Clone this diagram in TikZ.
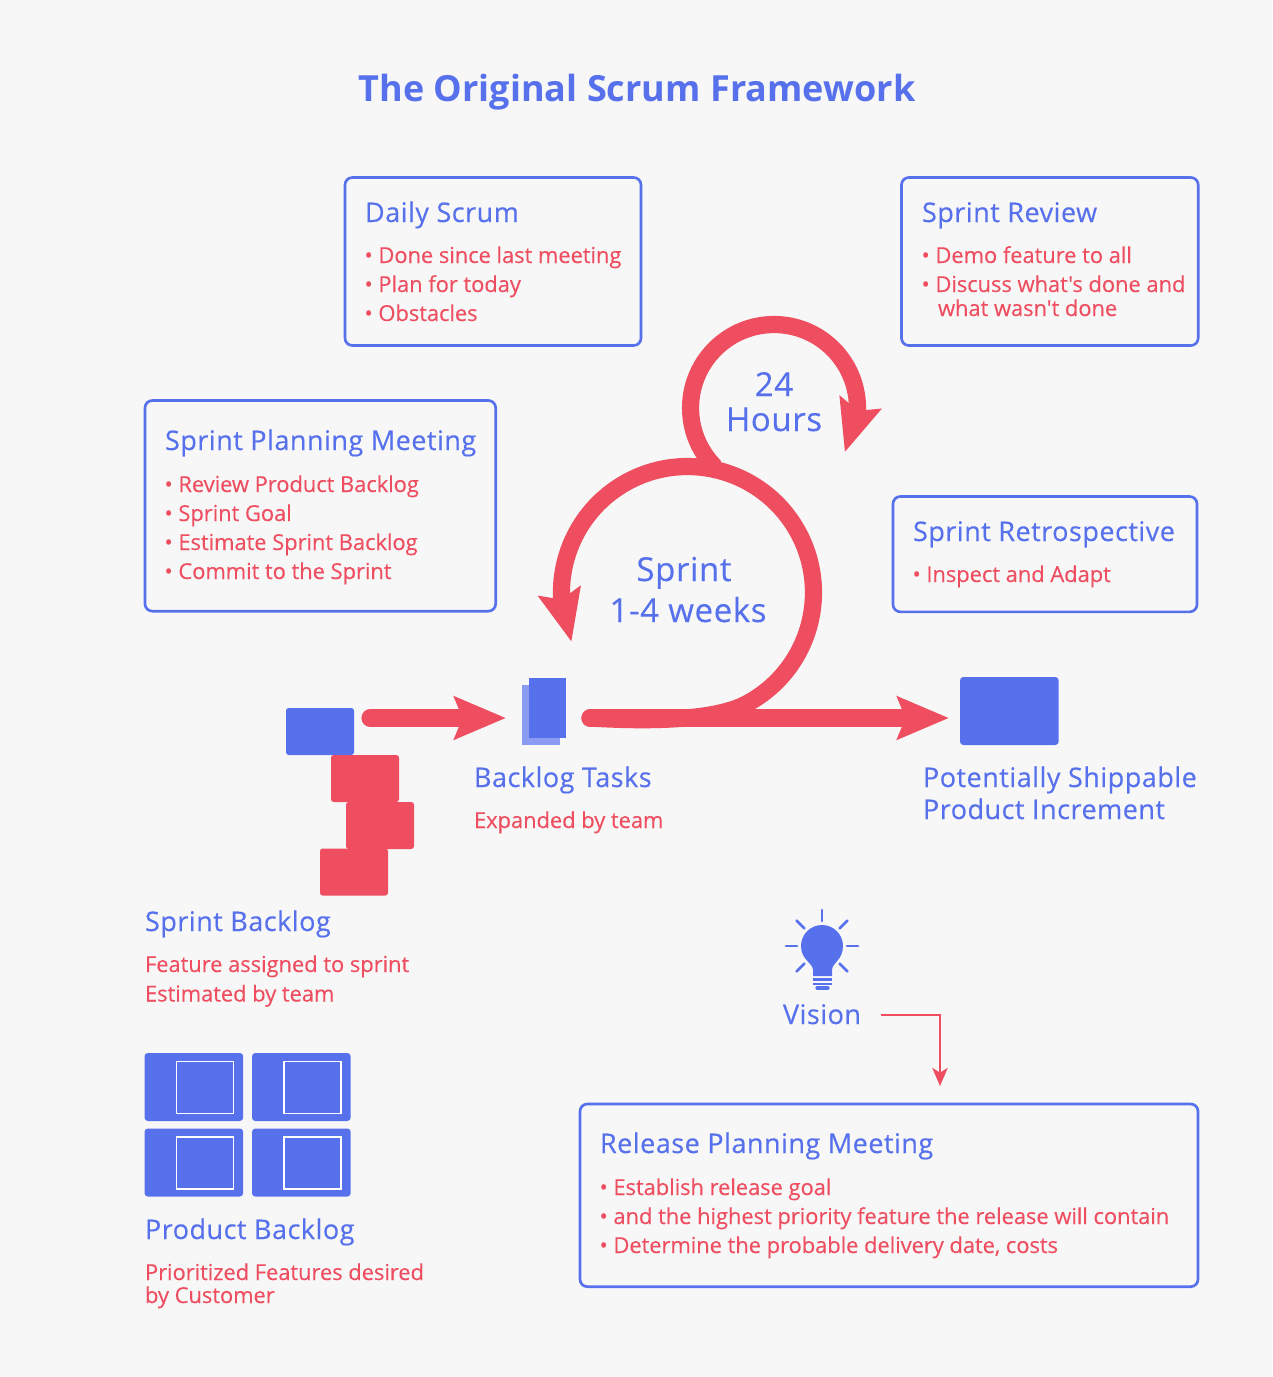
\documentclass[tikz,border=0pt]{standalone}
\usepackage{fontspec}
\newfontfamily\headface{Open Sans}[FakeBold=0.3, LetterSpace=1.85]
\newfontfamily\itemface{Open Sans}[FakeBold=0.2, LetterSpace=-0.42]
\newfontfamily\titleface{Open Sans}[LetterSpace=0.1]
\usetikzlibrary{arrows.meta, bending}
\definecolor{scrumblue}{HTML}{5771EC}
\definecolor{scrumlight}{HTML}{8B9BF1}
\definecolor{scrumred}{HTML}{EE4E60}
\definecolor{paper}{HTML}{F7F7F7}
\tikzset{
  every node/.style={outer sep=0pt},
  infobox/.style={draw=scrumblue, line width=2pt, rounded corners=5.5pt, anchor=north west, inner sep=0pt},
  headtext/.style={text=scrumblue, anchor=base west, inner sep=0pt, font=\headface\fontsize{20.25}{24}\selectfont},
  itemtext/.style={text=scrumred, anchor=base west, inner sep=0pt, font=\itemface\fontsize{16.5}{20}\selectfont},
  looptext/.style={text=scrumblue, anchor=base, inner sep=0pt, font=\headface\fontsize{24.75}{30}\selectfont},
  card/.style={fill=#1, anchor=north west, inner sep=0pt, rounded corners=2pt, minimum width=51pt, minimum height=35.25pt},
  backlogcard/.style={fill=scrumblue, anchor=north west, inner sep=0pt, rounded corners=2.5pt, minimum width=74pt, minimum height=51pt},
  backloginner/.style={draw=white, line width=1.1pt, anchor=north west, inner sep=0pt, minimum width=42.5pt, minimum height=39pt},
  bigarrow/.style={draw=scrumred, line width=12.9pt, line cap=round, -{Stealth[length=38.5pt, width=31.5pt, inset=6pt]}},
  thinarrow/.style={draw=scrumred, line width=2.2pt, -{Stealth[length=13.5pt, width=11.5pt, inset=3.5pt]}}
}
\begin{document}
\begin{tikzpicture}[x=0.75pt, y=0.75pt]
  \useasboundingbox[fill=paper] (0,0) rectangle (1272,-1377);

  \node[text=scrumblue, anchor=base, inner sep=0pt, font=\titleface\fontsize{27}{32}\selectfont\bfseries] (title) at (637,-102) {The Original Scrum Framework};

  % meeting boxes
  \node[infobox, minimum width=222pt, minimum height=126pt] (daily) at (345,-177.5) {};
  \node[headtext] (dailyhead) at (365,-222) {Daily Scrum};
  \foreach \t [count=\i] in {Done since last meeting, Plan for today, Obstacles}
    \node[itemtext] (dailyitem\i) at (364.5,{-234-29*\i}) {• \t};

  \node[infobox, minimum width=222.5pt, minimum height=126pt] (review) at (901.5,-177.5) {};
  \node[headtext] (reviewhead) at (922,-222) {Sprint Review};
  \node[itemtext] (reviewitem1) at (921.5,-263) {• Demo feature to all};
  \node[itemtext] (reviewitem2) at (921.5,-292) {• Discuss what's done and};
  \node[itemtext] (reviewitem3) at (938,-316) {what wasn't done};

  \node[infobox, minimum width=263pt, minimum height=158pt] (planning) at (145,-400.5) {};
  \node[headtext] (planninghead) at (165,-450) {Sprint Planning Meeting};
  \foreach \t [count=\i] in {Review Product Backlog, Sprint Goal, Estimate Sprint Backlog, Commit to the Sprint}
    \node[itemtext] (planningitem\i) at (164.5,{-463-29*\i}) {• \t};

  \node[infobox, minimum width=228pt, minimum height=86.5pt] (retro) at (893,-496.5) {};
  \node[headtext] (retrohead) at (913,-541) {Sprint Retrospective};
  \node[itemtext] (retroitem) at (912.5,-582) {• Inspect and Adapt};

  \node[infobox, minimum width=463.5pt, minimum height=137pt] (release) at (580,-1104) {};
  \node[headtext] (releasehead) at (600,-1153) {Release Planning Meeting};
  \foreach \t [count=\i] in {Establish release goal, and the highest priority feature the release will contain, {Determine the probable delivery date, costs}}
    \node[itemtext] (releaseitem\i) at (599.5,{-1166-29*\i}) {• \t};

  % loops
  \node[looptext] (hours1) at (774,-396) {24};
  \node[looptext] (hours2) at (774,-431) {Hours};
  \node[looptext] (sprint1) at (684,-581) {Sprint};
  \node[looptext] (sprint2) at (688,-622) {1-4 weeks};

  \coordinate (loopstart) at (590,-718);
  \coordinate (incrementin) at (949,-718);
  \coordinate (sprintout) at (370,-718);
  \coordinate (tasksin) at (506,-718);

  \draw[bigarrow, line cap=butt] (715,-467) arc[start angle=225, end angle=-32, radius=62.6pt];
  \draw[bigarrow] (loopstart) .. controls (640,-721) and (712,-722) .. (746.6,-703.8)
    arc[start angle=-62, end angle=203, radius=94.5pt];
  \draw[bigarrow] (loopstart) -- (incrementin);
  \draw[bigarrow] (sprintout) -- (tasksin);

  % cards
  \node[card=scrumblue] (sprintcard) at (286,-708) {};
  \node[card=scrumred] (redcard1) at (331,-755) {};
  \node[card=scrumred] (redcard2) at (346,-802) {};
  \node[card=scrumred] (redcard3) at (320,-848.5) {};
  \node[fill=scrumlight, anchor=north west, inner sep=0pt, minimum width=28.5pt, minimum height=45pt] (taskback) at (522,-685) {};
  \node[fill=scrumblue, anchor=north west, inner sep=0pt, minimum width=28pt, minimum height=45pt] (taskfront) at (529,-678) {};
  \node[fill=scrumblue, anchor=north west, inner sep=0pt, rounded corners=2.5pt, minimum width=74pt, minimum height=51pt] (increment) at (960,-677) {};

  \foreach \x in {144.5,252}
    \foreach \y in {1053,1128.5} {
      \node[backlogcard] (pb\x\y) at (\x,-\y) {};
      \node[backloginner] at ({\x+32.2},{-\y-8.5}) {};
    }

  % card labels
  \node[headtext] (taskshead) at (474,-787) {Backlog Tasks};
  \node[itemtext] (tasksitem) at (474,-828) {Expanded by team};
  \node[headtext] (incrementhead1) at (923,-787) {Potentially Shippable};
  \node[headtext] (incrementhead2) at (923,-819) {Product Increment};
  \node[headtext] (sprinthead) at (145,-931) {Sprint Backlog};
  \node[itemtext] (sprintitem1) at (145,-972) {Feature assigned to sprint};
  \node[itemtext] (sprintitem2) at (145,-1001.5) {Estimated by team};
  \node[headtext] (producthead) at (145,-1239) {Product Backlog};
  \node[itemtext] (productitem1) at (145,-1280) {Prioritized Features desired};
  \node[itemtext] (productitem2) at (145,-1303) {by Customer};

  % vision bulb
  \fill[scrumblue] (813,-976) -- (813,-970) .. controls (813,-963) and (801,-960) .. (801,-946)
    arc[start angle=180, end angle=0, radius=15.75pt]
    .. controls (843,-960) and (832,-963) .. (832,-970) -- (832,-976) -- cycle;
  \draw[scrumblue, line width=1.9pt] (813,-979.5) -- (832,-979.5);
  \draw[scrumblue, line width=1.9pt] (813,-984) -- (832,-984);
  \draw[scrumblue, line width=2.4pt, line cap=round] (817,-988) -- (828,-988);
  \foreach \a in {0,45,90,135,180,225,315}
    \draw[scrumblue, line width=2pt, line cap=round] ({822+25*cos(\a)},{-946+25*sin(\a)}) -- ({822+36*cos(\a)},{-946+36*sin(\a)});

  \node[text=scrumblue, anchor=base, inner sep=0pt, font=\headface\fontsize{20.25}{24}\selectfont] (vision) at (822,-1024) {Vision};
  \coordinate (visionout) at (881,-1015);
  \coordinate (visionin) at (940,-1086);
  \draw[thinarrow] (visionout) -| (visionin);
\end{tikzpicture}
\end{document}
